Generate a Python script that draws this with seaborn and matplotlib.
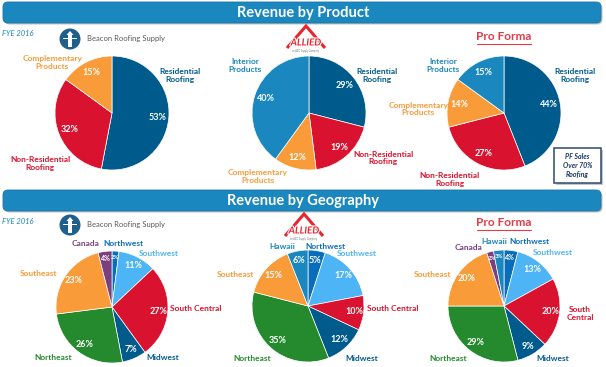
import matplotlib
matplotlib.use('Agg')
import matplotlib.pyplot as plt
import matplotlib.patheffects as pe
from matplotlib.patches import FancyBboxPatch, Circle, Polygon, Rectangle
import seaborn as sns

sns.set_theme(style='white')
plt.rcParams['font.family'] = ['Lato', 'DejaVu Sans']

W, H = 606, 367

# --- data -------------------------------------------------------------
product_cats_3 = ['Residential\nRoofing', 'Non-Residential\nRoofing', 'Complementary\nProducts']
product_cats_4 = product_cats_3 + ['Interior\nProducts']
beacon_product = [53, 32, 15]
allied_product = [29, 19, 12, 40]
proforma_product = [44, 27, 14, 15]

beacon_geo_cats = ['Northwest', 'Southwest', 'South Central', 'Midwest', 'Northeast', 'Southeast', 'Canada']
beacon_geo = [2, 11, 27, 7, 26, 23, 4]
allied_geo_cats = ['Northwest', 'Southwest', 'South Central', 'Midwest', 'Northeast', 'Southeast', 'Hawaii']
allied_geo = [5, 17, 10, 12, 35, 15, 6]
proforma_geo_cats = ['Northwest', 'Southwest', 'South\nCentral', 'Midwest', 'Northeast', 'Southeast',
                     'Canada', 'Hawaii']
proforma_geo = [4, 13, 20, 9, 29, 20, 2, 3]

# --- styling ----------------------------------------------------------
palette = sns.color_palette(['#005B8D', '#D9122F', '#F99B38', '#1B87BF',
                             '#0A6DBA', '#4DB4F5', '#248A2D', '#7B3F7D'])
COLORS = {
    'Residential Roofing': palette[0], 'Non-Residential Roofing': palette[1],
    'Complementary Products': palette[2], 'Interior Products': palette[3],
    'Northwest': palette[4], 'Southwest': palette[5], 'South Central': palette[1],
    'Midwest': palette[0], 'Northeast': palette[6], 'Southeast': palette[2],
    'Canada': palette[7], 'Hawaii': palette[3],
}
BANNER = '#1B87BF'
PF_RED = '#E23A48'

# label positions in pie-radius units (layout only)
beacon_product_pos = [(1.19, 0.65), (-1.26, -0.88), (-1.05, 0.89)]
allied_product_pos = [(1.19, 0.65), (1.3, -0.79), (-0.9, -1.12), (-1.12, 0.84)]
proforma_product_pos = [(1.25, 0.65), (-0.95, -1.16), (-1.5, 0.07), (-1.07, 0.84)]
beacon_geo_pos = [(0.2, 1.14), (0.84, 0.96), (1.5, -0.02), (0.91, -0.91),
                  (-1.05, -0.91), (-1.32, 0.59), (-0.48, 1.14)]
allied_geo_pos = [(0.32, 1.07), (0.875, 0.93), (1.52, -0.04), (0.96, -0.93),
                  (-1.0, -0.93), (-1.29, 0.57), (-0.45, 1.07)]
proforma_geo_pos = [(0.46, 1.16), (0.875, 0.95), (1.36, -0.13), (0.875, -0.93),
                    (-1.0, -0.93), (-1.27, 0.57), (-0.64, 1.04), (-0.18, 1.16)]

fig = plt.figure(figsize=(W / 100, H / 100), dpi=100)
fig.patch.set_facecolor('white')

# background axes in pixel coordinates
bg = fig.add_axes([0, 0, 1, 1])
bg.set_xlim(0, W)
bg.set_ylim(H, 0)
bg.axis('off')


def banner(y, title):
    bg.add_patch(FancyBboxPatch((4.5, y + 1.5), 598, 21, boxstyle='round,pad=0,rounding_size=5',
                                fc='#9A9A9A', ec='none', alpha=0.6))
    bg.add_patch(FancyBboxPatch((3, y), 598, 21, boxstyle='round,pad=0,rounding_size=5',
                                fc=BANNER, ec='#1774A6', lw=0.6))
    bg.text(303, y + 10.5, title, color='white', fontsize=10.5, fontweight='bold',
            ha='center', va='center')


def beacon_logo(cx, cy):
    bg.add_patch(Circle((cx, cy), 10.5, fc='#1F5F8B', ec='none'))
    bg.add_patch(Rectangle((cx - 1.6, cy - 6), 3.2, 14, fc='white', ec='none'))
    bg.add_patch(Rectangle((cx - 7, cy - 1), 14, 1.4, fc='white', ec='none'))
    bg.add_patch(Polygon([(cx - 3.5, cy - 4), (cx, cy - 8), (cx + 3.5, cy - 4)], fc='white', ec='none'))
    bg.text(cx + 17, cy, 'Beacon Roofing Supply', color='#5A5A5A', fontsize=5.5,
            ha='left', va='center')


def allied_logo(cx, cy):
    bg.add_patch(Polygon([(cx - 19, cy + 10), (cx, cy - 12), (cx + 19, cy + 10)], closed=False,
                         fill=False, ec='#E8242E', lw=2.2, joinstyle='miter'))
    bg.text(cx, cy + 5, 'ALLIED', color='#E8242E', fontsize=7, fontweight='bold', style='italic',
            ha='center', va='center',
            path_effects=[pe.withStroke(linewidth=1.5, foreground='white')])
    bg.text(cx, cy + 13, 'an ABC Supply Company', color='#777777', fontsize=1.8,
            ha='center', va='center')


def pro_forma(cy):
    bg.text(504, cy, 'Pro Forma', color=PF_RED, fontsize=8.5, fontweight='bold',
            ha='center', va='center')
    bg.plot([477, 531], [cy + 6.5, cy + 6.5], color=PF_RED, lw=0.8)


def draw_pie(cx, cy, r, values, cats, label_pos, pctdist):
    L = 1.8
    ax = fig.add_axes([(cx - L * r) / W, (H - cy - L * r) / H, 2 * L * r / W, 2 * L * r / H])
    ax.patch.set_alpha(0)
    names = [c.replace('\n', ' ') for c in cats]
    colors = [COLORS[n] for n in names]
    _, _, autotexts = ax.pie(values, colors=colors, startangle=90, counterclock=False,
                             autopct=lambda p: f'{p:.0f}%', pctdistance=pctdist,
                             wedgeprops=dict(edgecolor='white', linewidth=0.5),
                             textprops=dict(color='white', fontsize=6.5, fontweight='bold'))
    # tiny slices: smaller labels, pushed a bit outward so neighbours crowd less
    for v, t in zip(values, autotexts):
        if v < 5:
            t.set_fontsize(5 if v > 3 else 4.3)
            x, y = t.get_position()
            t.set_position((x * 0.88 / pctdist, y * 0.88 / pctdist))
    for cat, col, (dx, dy) in zip(cats, colors, label_pos):
        ax.text(dx, dy, cat, ha='center', va='center', color=col, fontsize=6,
                fontweight='bold', linespacing=1.15)
    ax.set_xlim(-L, L)
    ax.set_ylim(-L, L)
    ax.set_aspect('equal')
    ax.axis('off')


# --- top section: product -------------------------------------------
banner(2, 'Revenue by Product')
bg.text(2, 33, 'FYE 2016', color=BANNER, fontsize=5.5, style='italic', ha='left', va='center')
beacon_logo(70, 39)
allied_logo(306, 38)
pro_forma(37)

draw_pie(112, 113, 57, beacon_product, product_cats_3, beacon_product_pos, 0.8)
draw_pie(309, 113, 57, allied_product, product_cats_4, allied_product_pos, 0.8)
draw_pie(504, 113, 57, proforma_product, product_cats_4, proforma_product_pos, 0.8)

# PF Sales call-out box
bg.add_patch(Rectangle((556, 150), 47, 35, fc='#A0A0A0', ec='none', alpha=0.6))
bg.add_patch(Rectangle((554, 148), 47, 35, fc='white', ec='#2E4A6B', lw=1.1))
bg.text(577.5, 165.5, 'PF Sales\nOver 70%\nRoofing', color='#1F3864', fontsize=5,
        fontweight='bold', style='italic', ha='center', va='center', linespacing=1.35)

# --- bottom section: geography --------------------------------------
banner(190, 'Revenue by Geography')
bg.text(2, 221, 'FYE 2016', color=BANNER, fontsize=5.5, style='italic', ha='left', va='center')
beacon_logo(70, 225)
allied_logo(304, 226)
pro_forma(223)

draw_pie(112, 307, 56, beacon_geo, beacon_geo_cats, beacon_geo_pos, 0.83)
draw_pie(308, 306, 56, allied_geo, allied_geo_cats, allied_geo_pos, 0.83)
draw_pie(504, 306, 56, proforma_geo, proforma_geo_cats, proforma_geo_pos, 0.83)

fig.savefig('out.png', dpi=100)
